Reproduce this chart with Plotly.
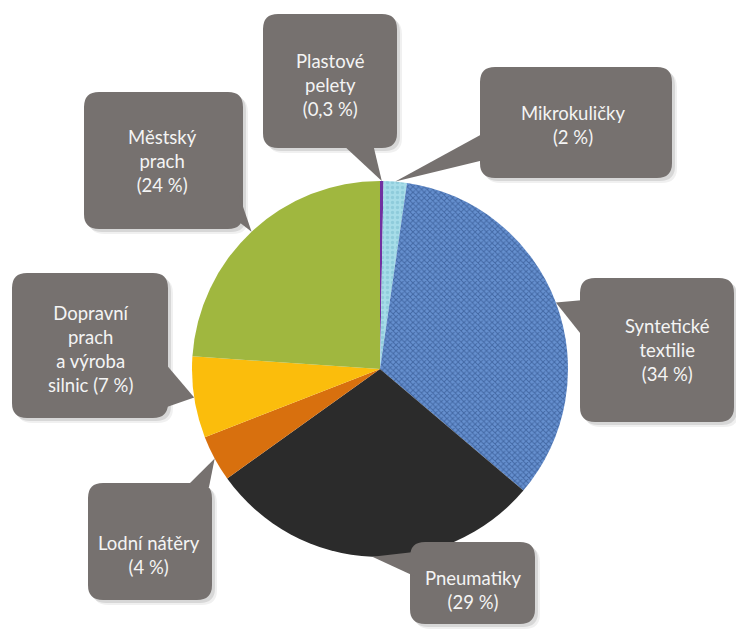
import math
import plotly.graph_objects as go

# --- data -------------------------------------------------------------
labels = [
    "Plastové pelety",
    "Mikrokuličky",
    "Syntetické textilie",
    "Pneumatiky",
    "Lodní nátěry",
    "Dopravní prach a výroba silnic",
    "Městský prach",
]
shares = [0.3, 2, 34, 29, 4, 7, 24]
# line breaks used inside each callout (percentage is appended)
label_lines = [
    ["Plastové", "pelety"],
    ["Mikrokuličky"],
    ["Syntetické", "textilie"],
    ["Pneumatiky"],
    ["Lodní nátěry"],
    ["Dopravní", "prach", "a výroba", "silnic"],
    ["Městský", "prach"],
]

# --- styling / layout --------------------------------------------------
W, H = 736, 630
CX, CY, R = 380, 369, 188
slice_colors = ["#7030a0", "#a6dce8", "#6690cf", "#2b2b2b", "#d8700e", "#fbbd0c", "#a0b73f"]
BOX = "#76716f"
TEXT = "#f4f4f4"

# callout boxes: (x0, y0, x1, y1), pointer base points, text centre, pct on same line
callouts = [
    dict(box=(263, 14, 397, 148), base=[(342, 144), (373, 144)], txt=(330, 85), inline=False),
    dict(box=(480, 67, 672, 178), base=[(484, 133), (484, 160)], txt=(573, 125), inline=False),
    dict(box=(580, 278, 734, 422), base=[(584, 300), (584, 338)], txt=(667, 350), inline=False),
    dict(box=(410, 542, 535, 624), base=[(414, 552), (414, 576)], txt=(473, 590), inline=False),
    dict(box=(88, 483, 212, 600), base=[(186, 487), (209, 487)], txt=(149, 555), inline=False),
    dict(box=(12, 273, 168, 418), base=[(164, 362), (164, 408)], txt=(90, 349), inline=True),
    dict(box=(84, 92, 243, 229), base=[(239, 195), (239, 222)], txt=(162, 161), inline=False),
]


def fmt_pct(v):
    s = f"{v:g}".replace(".", ",")
    return f"({s} %)"


def rounded_rect(x0, y0, x1, y1, r):
    return (
        f"M {x0 + r},{y0} L {x1 - r},{y0} Q {x1},{y0} {x1},{y0 + r} "
        f"L {x1},{y1 - r} Q {x1},{y1} {x1 - r},{y1} "
        f"L {x0 + r},{y1} Q {x0},{y1} {x0},{y1 - r} "
        f"L {x0},{y0 + r} Q {x0},{y0} {x0 + r},{y0} Z"
    )


total = sum(shares)
cum = 0.0
tips = []
for v in shares:
    ang = math.radians(360.0 * (cum + v / 2.0) / total)
    tips.append((CX + R * math.sin(ang), CY - R * math.cos(ang)))
    cum += v

fig = go.Figure()

# invisible pixel-space axes for the callouts
fig.add_trace(go.Scatter(x=[0, W], y=[0, H], mode="markers",
                         marker=dict(opacity=0), hoverinfo="skip", showlegend=False))

fig.add_trace(go.Pie(
    labels=labels,
    values=shares,
    sort=False,
    direction="clockwise",
    rotation=0,
    textinfo="none",
    hoverinfo="label+value",
    showlegend=False,
    domain=dict(x=[(CX - R) / W, (CX + R) / W], y=[1 - (CY + R) / H, 1 - (CY - R) / H]),
    marker=dict(
        colors=slice_colors,
        line=dict(width=0),
        pattern=dict(
            shape=["", ".", "x", "", "", "", ""],
            fgcolor=["#7030a0", "#78bccd", "#1f3f78", "#2b2b2b", "#d8700e", "#fbbd0c", "#a0b73f"],
            size=[4, 5, 4, 4, 4, 4, 4],
            solidity=[0.3, 0.35, 0.42, 0.3, 0.3, 0.3, 0.3],
            fillmode="overlay",
        ),
    ),
))

shapes = []
annotations = []
for c, tip, lines, v in zip(callouts, tips, label_lines, shares):
    x0, y0, x1, y1 = c["box"]
    (bx0, by0), (bx1, by1) = c["base"]
    tri = f"M {bx0},{by0} L {tip[0]:.1f},{tip[1]:.1f} L {bx1},{by1} Z"
    # soft drop shadow
    for off, alpha in ((5, 0.06), (3, 0.10)):
        shapes.append(dict(type="path", xref="x", yref="y", layer="above",
                           path=rounded_rect(x0 + off, y0 + off, x1 + off, y1 + off, 15),
                           fillcolor=f"rgba(0,0,0,{alpha})", line=dict(width=0)))
    shapes.append(dict(type="path", xref="x", yref="y", layer="above",
                       path=rounded_rect(x0, y0, x1, y1, 15),
                       fillcolor=BOX, line=dict(width=0)))
    shapes.append(dict(type="path", xref="x", yref="y", layer="above",
                       path=tri, fillcolor=BOX, line=dict(width=0)))
    if c["inline"]:
        text_lines = lines[:-1] + [lines[-1] + " " + fmt_pct(v)]
    else:
        text_lines = lines + [fmt_pct(v)]
    annotations.append(dict(x=c["txt"][0], y=c["txt"][1], xref="x", yref="y",
                            text="<br>".join(text_lines), showarrow=False,
                            xanchor="center", yanchor="middle", align="center",
                            font=dict(family="Lato", size=18.5, color=TEXT)))

fig.update_layout(
    width=W, height=H,
    margin=dict(l=0, r=0, t=0, b=0),
    paper_bgcolor="white", plot_bgcolor="white",
    xaxis=dict(range=[0, W], visible=False, fixedrange=True),
    yaxis=dict(range=[H, 0], visible=False, fixedrange=True),
    shapes=shapes,
    annotations=annotations,
)

fig.write_html("out.html")
